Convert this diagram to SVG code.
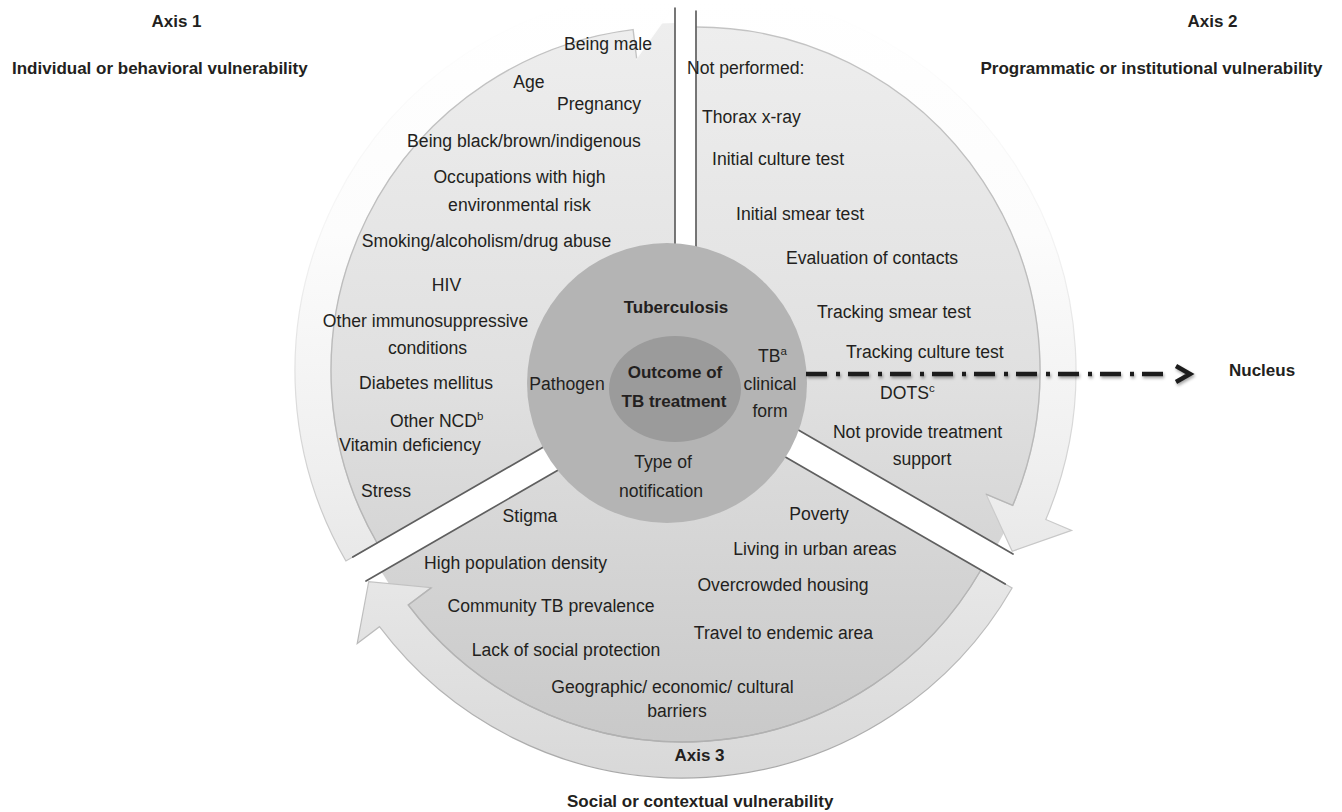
<svg xmlns="http://www.w3.org/2000/svg" width="1342" height="812" viewBox="0 0 1342 812">
<style>
.t{font-family:"Liberation Sans",Arial,sans-serif;font-size:17.6px;fill:#231f20}
.b{font-family:"Liberation Sans",Arial,sans-serif;font-size:17px;font-weight:bold;fill:#231f20}
.m{text-anchor:middle}
.sup{font-size:11.5px}
.wedge{fill:url(#wedgeGrad)}
.arrow{fill:url(#arrowGrad);stroke:url(#arrowStroke);stroke-width:1.2}
.rim{fill:none;stroke:url(#rimStroke);stroke-width:1.4}
.edge{stroke:#5f5f5f;stroke-width:1.7;fill:none;stroke-linecap:round}
</style>
<defs>
<linearGradient id="wedgeGrad" gradientUnits="userSpaceOnUse" x1="0" y1="20" x2="0" y2="740">
<stop offset="0" stop-color="#eeeeee"/>
<stop offset="0.5" stop-color="#e0e0e0"/>
<stop offset="1" stop-color="#c9c9c9"/>
</linearGradient>
<linearGradient id="arrowGrad" gradientUnits="userSpaceOnUse" x1="0" y1="0" x2="0" y2="780">
<stop offset="0" stop-color="#ffffff"/>
<stop offset="0.3" stop-color="#fcfcfc"/>
<stop offset="0.6" stop-color="#efefef"/>
<stop offset="1" stop-color="#d8d8d8"/>
</linearGradient>
<linearGradient id="arrowStroke" gradientUnits="userSpaceOnUse" x1="0" y1="0" x2="0" y2="780">
<stop offset="0" stop-color="#ffffff"/>
<stop offset="0.3" stop-color="#f4f4f4"/>
<stop offset="0.65" stop-color="#cccccc"/>
<stop offset="1" stop-color="#a8a8a8"/>
</linearGradient>
<linearGradient id="rimStroke" gradientUnits="userSpaceOnUse" x1="0" y1="0" x2="0" y2="780">
<stop offset="0" stop-color="#c4c4c4"/>
<stop offset="1" stop-color="#b0b0b0"/>
</linearGradient>
<filter id="shadow" x="-5%" y="-50%" width="110%" height="200%">
<feDropShadow dx="1" dy="2" stdDeviation="1.5" flood-color="#000" flood-opacity="0.35"/>
</filter>
</defs>
<rect width="1342" height="812" fill="#ffffff"/>

<g id="axis1-segment">
<path class="wedge" d="M675,371 L675,23 A348,348 0 0 0 373.6,545 Z"/>
<path class="arrow" d="M377.1,543 L345.9,561 A380,380 0 0 1 628.7,-6.2 L625.3,-34 L673.1,7 L636.6,58.3 L633.1,29.6 A344,344 0 0 0 377.1,543 Z"/>
<path class="rim" d="M636.6,58.3 L633.1,29.6 A344,344 0 0 0 377.1,543"/>
</g>
<g id="axis2-segment">
<path class="wedge" d="M696,371 L696,23 A348,348 0 0 1 997.4,545 Z"/>
<path class="arrow" d="M696,27 L696,-9 A380,380 0 0 1 1045.8,519.5 L1071.6,530.4 L1012.2,551.3 L986,494.1 L1012.7,505.4 A344,344 0 0 0 696,27 Z"/>
<path class="rim" d="M986,494.1 L1012.7,505.4 A344,344 0 0 0 696,27"/>
</g>
<g id="axis3-segment">
<path class="wedge" d="M683,398 L381.6,572 A348,348 0 0 0 984.4,572 Z"/>
<path class="arrow" d="M980.9,570 L1012.1,588 A380,380 0 0 1 379.5,626.7 L357.2,643.5 L368.7,581.7 L431.4,587.6 L408.3,605 A344,344 0 0 0 980.9,570 Z"/>
<path class="rim" d="M431.4,587.6 L408.3,605 A344,344 0 0 0 980.9,570"/>
</g>
<g id="segment-edges">
<line class="edge" x1="675" y1="371" x2="675" y2="8"/>
<line class="edge" x1="675" y1="371" x2="352.8" y2="557"/>
<line class="edge" x1="696" y1="371" x2="696" y2="11"/>
<line class="edge" x1="696" y1="371" x2="1013" y2="554"/>
<line class="edge" x1="683" y1="398" x2="366" y2="581"/>
<line class="edge" x1="683" y1="398" x2="1005.2" y2="584"/>
</g>

<g id="tuberculosis">
<circle cx="667" cy="383" r="140" fill="#b4b4b4"/>
<text class="b m" x="676" y="313">Tuberculosis</text>
<text class="t m" x="567" y="390">Pathogen</text>
<text class="t" x="758" y="362">TB<tspan class="sup" dy="-7">a</tspan></text>
<text class="t m" x="770" y="390">clinical</text>
<text class="t m" x="770" y="417">form</text>
<text class="t m" x="663" y="468">Type of</text>
<text class="t m" x="661" y="497">notification</text>
</g>
<g id="outcome">
<ellipse cx="675" cy="389" rx="66" ry="53" fill="#9b9b9b"/>
<text class="b m" x="675" y="378">Outcome of</text>
<text class="b m" x="674" y="407">TB treatment</text>
</g>

<g id="axis1-labels">
<text class="b m" x="176.5" y="27">Axis 1</text>
<text class="b" x="12" y="74">Individual or behavioral vulnerability</text>
<text class="t m" x="608" y="50">Being male</text>
<text class="t m" x="529" y="88">Age</text>
<text class="t m" x="599" y="110">Pregnancy</text>
<text class="t m" x="524" y="147">Being black/brown/indigenous</text>
<text class="t m" x="519.5" y="183">Occupations with high</text>
<text class="t m" x="519.5" y="211">environmental risk</text>
<text class="t m" x="486.5" y="247">Smoking/alcoholism/drug abuse</text>
<text class="t m" x="446.5" y="291">HIV</text>
<text class="t m" x="425.5" y="327">Other immunosuppressive</text>
<text class="t m" x="427.5" y="354">conditions</text>
<text class="t m" x="426" y="389">Diabetes mellitus</text>
<text class="t" x="390" y="427">Other NCD<tspan class="sup" dy="-7">b</tspan></text>
<text class="t m" x="410" y="451">Vitamin deficiency</text>
<text class="t m" x="386" y="497">Stress</text>
</g>

<g id="axis2-labels">
<text class="b m" x="1212.5" y="27">Axis 2</text>
<text class="b m" x="1151.5" y="74">Programmatic or institutional vulnerability</text>
<text class="t" x="687" y="74">Not performed:</text>
<text class="t" x="702" y="123">Thorax x-ray</text>
<text class="t" x="712" y="165">Initial culture test</text>
<text class="t" x="736" y="220">Initial smear test</text>
<text class="t" x="786" y="264">Evaluation of contacts</text>
<text class="t" x="817" y="318">Tracking smear test</text>
<text class="t" x="846" y="358">Tracking culture test</text>
<text class="t" x="880" y="399">DOTS<tspan class="sup" dy="-7">c</tspan></text>
<text class="t m" x="917.5" y="438">Not provide treatment</text>
<text class="t m" x="922" y="465">support</text>
</g>

<g id="axis3-labels">
<text class="t m" x="530" y="522">Stigma</text>
<text class="t m" x="515.5" y="569">High population density</text>
<text class="t m" x="551" y="612">Community TB prevalence</text>
<text class="t m" x="566" y="656">Lack of social protection</text>
<text class="t m" x="672.5" y="693">Geographic/ economic/ cultural</text>
<text class="t m" x="677" y="717">barriers</text>
<text class="t m" x="819" y="520">Poverty</text>
<text class="t m" x="815" y="555">Living in urban areas</text>
<text class="t m" x="783" y="591">Overcrowded housing</text>
<text class="t m" x="783.5" y="639">Travel to endemic area</text>
<text class="b m" x="699.5" y="761">Axis 3</text>
<text class="b" x="567" y="807">Social or contextual vulnerability</text>
</g>

<g id="nucleus">
<text class="b" x="1229" y="376">Nucleus</text>
</g>

<g id="connectors" filter="url(#shadow)">
<line x1="806" y1="374" x2="1163" y2="374" stroke="#1e1e1e" stroke-width="4.5" stroke-dasharray="21 9 4 8"/>
<polyline points="1176,366 1190,374 1176,382" fill="none" stroke="#1e1e1e" stroke-width="4.5" stroke-linejoin="miter"/>
</g>
</svg>
